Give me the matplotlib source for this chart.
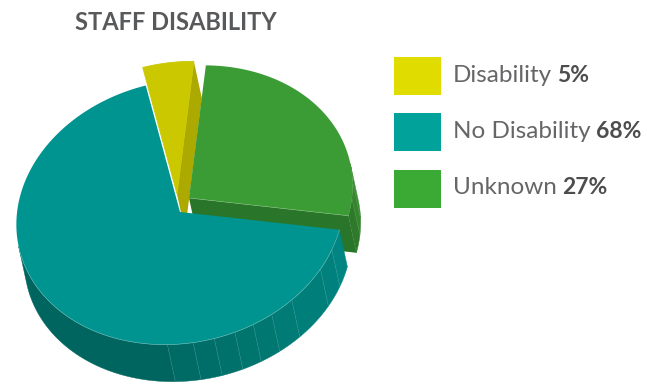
### Staff disability pie with a hand built 3D look

import numpy as np
import matplotlib
matplotlib.use("Agg")
import matplotlib.pyplot as plt
from matplotlib.patches import Polygon, Rectangle

# Data
categories = ["Disability", "No Disability", "Unknown"]
values = [5, 68, 27]
value_labels = ["5%", "68%", "27%"]

# Colours: legend / top face / cut face
legend_colors = ["#e0dc00", "#00a29a", "#3aaa35"]
top_colors = ["#cbc800", "#009490", "#3b9c35"]
cut_colors = ["#aca900", "#007f7a", "#29752a"]

# Angles where the rim is split into shaded strips
teal_seams = [31.5, 40.5, 56.5, 65.5, 73, 80, 87.5, 95, 104]
teal_rim = ["#008583", "#00817d", "#007e79", "#007b75", "#007871",
            "#00756e", "#00726b", "#006e68", "#006a64", "#00655f"]
green_seams = [8, 15]
green_rim = ["#3a8c32", "#35842e", "#2e7a2a"]

# Pie geometry (pixels, y pointing down)
cx, cy = 180, 212
semi_a, semi_b = 165, 131
e1 = np.array([0.978, -0.208])
e2 = np.array([0.208, 0.978])
depth = np.array([8, 37])
start_angle = 267.5  # where the first slice begins, clockwise
offsets = [(-3, -18), (0, 0), (9, -14)]


def rim_points(a0, a1, shift=(0, 0)):
    t = np.radians(np.linspace(a0, a1, 120))
    pts = np.outer(semi_a * np.cos(t), e1) + np.outer(semi_b * np.sin(t), e2)
    return pts + np.array([cx, cy]) + np.array(shift)


def side_strip(ax, a0, a1, color, shift=(0, 0)):
    top = rim_points(a0, a1, shift)
    ax.add_patch(Polygon(np.vstack([top, top[::-1] + depth]), closed=True,
                         facecolor=color, edgecolor=color, lw=0.3))


def seam_line(ax, angle, shift=(0, 0), color="#5fb3ae"):
    p = rim_points(angle, angle, shift)[0]
    ax.plot([p[0], p[0] + depth[0]], [p[1], p[1] + depth[1]],
            color=color, lw=0.4, alpha=0.45)


def draw_rim(ax, a0, a1, seams, colors, shift=(0, 0), seam_color="#5fb3ae"):
    edges = [a0] + seams + [a1]
    for i in range(len(colors)):
        side_strip(ax, edges[i], edges[i + 1], colors[i], shift)
    for s in seams:
        seam_line(ax, s, shift, seam_color)


fig = plt.figure(figsize=(6.47, 3.85), dpi=100)
ax = fig.add_axes([0, 0, 1, 1])
ax.set_xlim(0, 647)
ax.set_ylim(385, 0)
ax.axis("off")

# Slice angles from the values
spans = [v / sum(values) * 360 for v in values]
a_yellow = (start_angle, start_angle + spans[0])
a_green = (a_yellow[1], a_yellow[1] + spans[2])
a_teal = (a_green[1] - 360, a_green[1] - 360 + spans[1])

# Yellow slice, its cut face goes first since everything overlaps it
apex = np.array([cx, cy]) + np.array(offsets[0])
end = rim_points(a_yellow[1], a_yellow[1], offsets[0])[0]
ax.add_patch(Polygon([apex, end, end + depth, apex + depth], closed=True,
                     facecolor=cut_colors[0], edgecolor="none"))
ax.add_patch(Polygon(np.vstack([apex, rim_points(*a_yellow, offsets[0])]), closed=True,
                     facecolor=top_colors[0], edgecolor=top_colors[0], lw=0.6))

# Green slice
apex = np.array([cx, cy]) + np.array(offsets[2])
draw_rim(ax, 0, a_teal[0], green_seams, green_rim, offsets[2], "#6fae68")
end = rim_points(a_teal[0], a_teal[0], offsets[2])[0]
ax.add_patch(Polygon([apex, end, end + depth, apex + depth], closed=True,
                     facecolor=cut_colors[2], edgecolor="none"))
ax.add_patch(Polygon(np.vstack([apex, rim_points(a_green[0], a_green[1], offsets[2])]),
                     closed=True, facecolor=top_colors[2], edgecolor="none"))
ax.plot([apex[0], end[0]], [apex[1], end[1]], color="#7dbb76", lw=0.4)

# Teal slice
apex = np.array([cx, cy])
draw_rim(ax, a_teal[0], 180, teal_seams, teal_rim)
ax.add_patch(Polygon(np.vstack([apex, rim_points(*a_teal)]), closed=True,
                     facecolor=top_colors[1], edgecolor="none"))
rim = rim_points(a_teal[0], 180)
ax.plot(rim[:, 0], rim[:, 1], color="#6cbdb8", lw=0.4)

# Title
ax.text(75, 22, "STAFF DISABILITY", fontsize=17, fontweight="bold",
        family="Lato", color="#58595b", va="center", ha="left")

# Legend
legend_y = [75, 131, 188]
renderer = fig.canvas.get_renderer()
for name, label, col, y, sq in zip(categories, value_labels, legend_colors, legend_y, [76, 132, 189]):
    ax.add_patch(Rectangle((394, sq - 19), 47, 38, facecolor=col, edgecolor="none"))
    t = ax.text(453, y, name, fontsize=17.5, family="Lato",
                color="#666668", va="center", ha="left")
    box = t.get_window_extent(renderer)
    ax.text(box.x1 + 5, y, label, fontsize=16.5, family="Lato", fontweight="bold",
            color="#4d4d4f", va="center", ha="left")

fig.savefig("out.png", dpi=100)
